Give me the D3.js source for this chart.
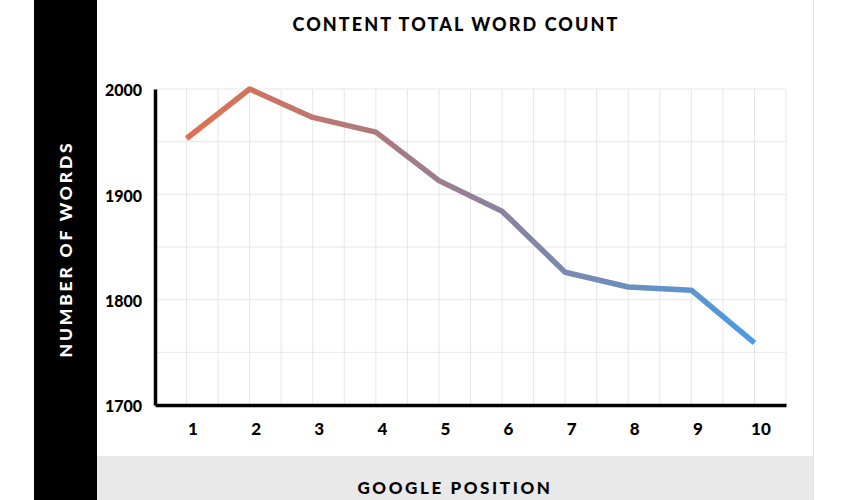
<!DOCTYPE html>
<html><head><meta charset="utf-8">
<script src="https://cdn.jsdelivr.net/npm/d3@7"></script>
<style>
html,body{margin:0;padding:0;background:#fff;}
svg{display:block;font-family:Lato,"Open Sans",sans-serif;}
</style></head>
<body><svg id="chart" width="850" height="500"></svg>
<script>
const title = "CONTENT TOTAL WORD COUNT";
const xTitle = "GOOGLE POSITION";
const yTitle = "NUMBER OF WORDS";
const positions = [1,2,3,4,5,6,7,8,9,10];
const wordCounts = [1953,2000,1973,1959,1913,1884,1826,1812,1809,1759];
const yTicks = [1700,1800,1900,2000];
const xTickLabels = ["1","2","3","4","5","6","7","8","9","10"];

const svg = d3.select("#chart");
// background panels
svg.append("rect").attr("x",34).attr("y",0).attr("width",63).attr("height",500).attr("fill","#000");
svg.append("rect").attr("x",97).attr("y",456).attr("width",716).attr("height",44).attr("fill","#e9e9e9");
svg.append("line").attr("x1",813.5).attr("x2",813.5).attr("y1",0).attr("y2",500).attr("stroke","#e4e4e4").attr("stroke-width",1);

const x = d3.scaleLinear().domain([0.5,10.5]).range([155,786]);
const y = d3.scaleLinear().domain([1700,2000]).range([405,89]);

// grid
const g = svg.append("g");
g.selectAll("line.hg").data(d3.range(1750,2001,50)).join("line")
  .attr("x1",x(0.5)).attr("x2",x(10.5)).attr("y1",d=>y(d)).attr("y2",d=>y(d))
  .attr("stroke","#e6e6e6").attr("stroke-width",1);
g.selectAll("line.vg").data(d3.range(1,10.51,0.5)).join("line")
  .attr("x1",d=>x(d)).attr("x2",d=>x(d)).attr("y1",y(2000)).attr("y2",y(1700))
  .attr("stroke","#e6e6e6").attr("stroke-width",1);

// axes
const xAxis = svg.append("g").attr("transform",`translate(0,${y(1700)})`)
  .call(d3.axisBottom(x).tickValues(positions).tickFormat((d,i)=>xTickLabels[i]).tickSize(0).tickPadding(18));
xAxis.select(".domain").attr("stroke","#000").attr("stroke-width",3.5);
xAxis.selectAll("text").attr("font-size",17).attr("font-weight",900).attr("fill","#000")
  .attr("font-family","Lato").attr("dx",6);

const yAxis = svg.append("g").attr("transform",`translate(${x(0.5)},0)`)
  .call(d3.axisLeft(y).tickValues(yTicks).tickFormat(d3.format("d")).tickSize(0).tickPadding(13));
yAxis.select(".domain").attr("stroke","#000").attr("stroke-width",3.5);
yAxis.selectAll("text").attr("font-size",16).attr("font-weight",900).attr("fill","#000")
  .attr("font-family","Lato").attr("dy","0.42em");

// gradient line
const defs = svg.append("defs");
const grad = defs.append("linearGradient").attr("id","lg").attr("gradientUnits","userSpaceOnUse")
  .attr("x1",x(1)).attr("x2",x(10)).attr("y1",0).attr("y2",0);
grad.append("stop").attr("offset","0%").attr("stop-color","#e2704f");
grad.append("stop").attr("offset","45%").attr("stop-color","#9a7d90");
grad.append("stop").attr("offset","100%").attr("stop-color","#4a9be0");

const line = d3.line().x((d,i)=>x(positions[i])).y(d=>y(d));
svg.append("path").datum(wordCounts).attr("d",line).attr("fill","none")
  .attr("stroke","url(#lg)").attr("stroke-width",5.5).attr("stroke-linejoin","round");

// titles
svg.append("text").attr("x",456).attr("y",31).attr("text-anchor","middle")
  .attr("font-size",18).attr("font-weight",900).attr("letter-spacing",2.1).attr("fill","#000").text(title);
svg.append("text").attr("x",455).attr("y",494).attr("text-anchor","middle")
  .attr("font-size",17).attr("font-weight",900).attr("letter-spacing",2.6).attr("fill","#000").text(xTitle);
svg.append("text").attr("transform","translate(72,249) rotate(-90)").attr("text-anchor","middle")
  .attr("font-size",17.5).attr("font-weight",900).attr("letter-spacing",2.8).attr("fill","#fff").text(yTitle);
</script></body></html>
